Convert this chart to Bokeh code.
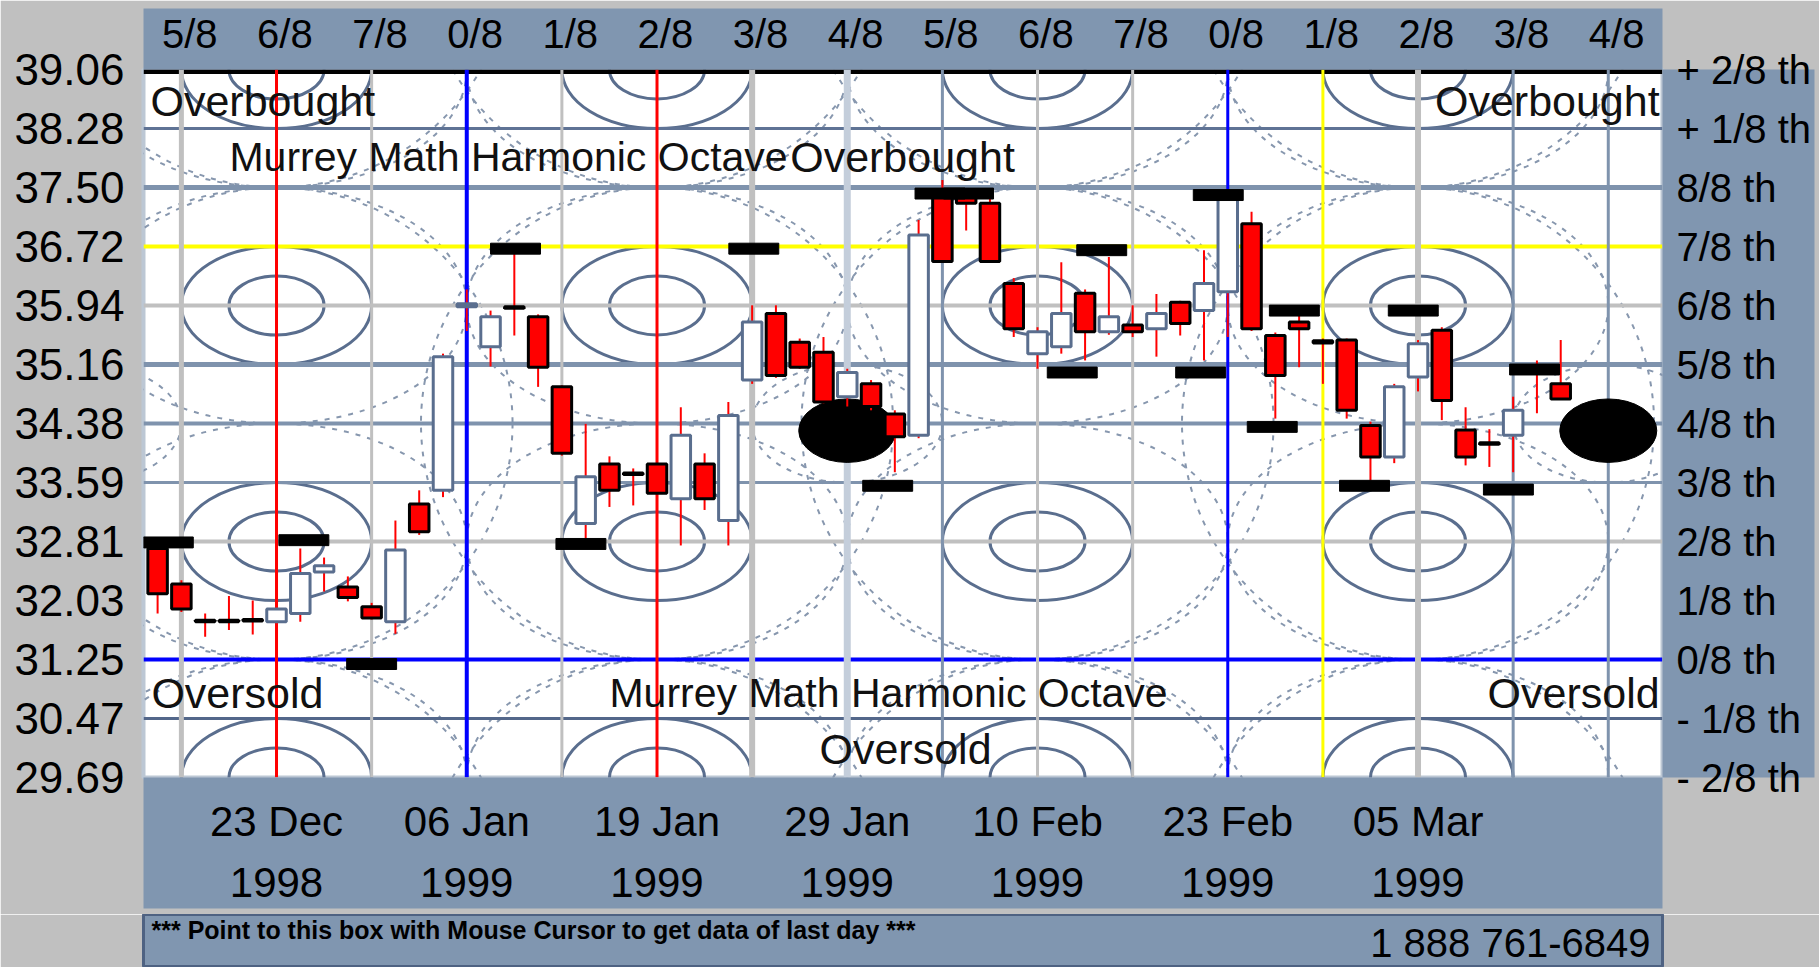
from bokeh.plotting import figure
from bokeh.models import Range1d, LinearAxis, FixedTicker
from bokeh.layouts import column
from bokeh.embed import file_html
from bokeh.resources import INLINE
from bokeh.core.properties import value

# ---------------- data ----------------
opens = [32.72, 32.25, 31.77, 31.77, 31.78, 31.75, 31.86, 32.41, 32.21, 31.95,
         31.75, 33.31, 33.49, 35.92, 35.39, 35.92, 35.79, 34.86, 33.05, 33.84,
         33.72, 33.84, 33.38, 33.84, 33.09, 34.95, 35.83, 35.45, 35.32, 34.73,
         34.90, 34.50, 34.22, 37.40, 37.40, 37.29, 36.23, 35.30, 35.39, 36.10,
         35.59, 35.68, 35.63, 35.98, 35.87, 36.12, 37.02, 35.54, 35.72, 35.47,
         35.48, 34.35, 33.93, 34.99, 35.61, 34.29, 34.12, 34.22, 35.05, 34.90]
highs = [32.85, 32.30, 31.86, 32.09, 32.03, 31.95, 32.72, 32.60, 32.35, 32.00,
         33.09, 33.49, 35.30, 36.15, 35.87, 36.62, 35.82, 34.88, 34.37, 33.94,
         33.78, 33.90, 34.59, 33.98, 34.66, 35.94, 35.94, 35.50, 35.52, 35.10,
         34.95, 34.55, 37.07, 37.60, 37.45, 37.35, 36.30, 35.65, 36.51, 36.15,
         36.58, 35.94, 36.09, 36.00, 36.67, 37.40, 37.18, 35.58, 35.80, 35.50,
         35.50, 34.40, 34.90, 35.48, 35.65, 34.59, 34.30, 34.73, 35.21, 35.48]
lows = [31.86, 31.88, 31.55, 31.64, 31.58, 31.70, 31.75, 32.15, 32.02, 31.78,
        31.59, 32.90, 33.40, 35.60, 35.13, 35.54, 34.86, 33.95, 32.85, 33.27,
        33.29, 33.40, 32.76, 33.23, 32.76, 34.90, 34.98, 35.10, 34.64, 34.60,
        34.55, 33.73, 34.18, 36.50, 36.93, 36.50, 35.52, 35.10, 35.30, 35.21,
        35.55, 35.52, 35.26, 35.54, 35.21, 35.52, 35.60, 34.44, 35.12, 34.90,
        34.44, 33.62, 33.85, 34.80, 34.42, 33.82, 33.80, 33.73, 34.51, 34.70]
closes = [32.12, 31.92, 31.75, 31.75, 31.76, 31.92, 32.39, 32.49, 32.07, 31.80,
          32.70, 32.94, 35.26, 35.96, 35.79, 35.90, 35.12, 33.98, 33.67, 33.49,
          33.70, 33.45, 34.22, 33.38, 34.48, 35.72, 35.01, 35.12, 34.66, 35.05,
          34.60, 34.20, 36.87, 36.52, 37.29, 36.52, 35.63, 35.59, 35.83, 35.59,
          35.79, 35.59, 35.83, 35.70, 36.23, 37.35, 35.63, 35.01, 35.63, 35.44,
          34.55, 33.93, 34.86, 35.43, 34.68, 33.93, 34.10, 34.55, 35.08, 34.70]

# pivot marker bars (trading-day position, price)
marker_day = [0.45, 6.15, 9.0, 15.05, 17.8, 25.07, 32.9, 34.1, 30.7, 38.46,
              39.7, 43.86, 44.6, 46.87, 47.8, 50.75, 52.8, 56.8, 57.9]
marker_price = [32.80, 32.83, 31.19, 36.69, 32.78, 36.69, 37.42, 37.42, 33.55, 35.05,
                36.67, 35.05, 37.40, 34.33, 35.87, 33.55, 35.87, 33.50, 35.09]

# Murrey math price levels and labels
price_levels = [29.6875, 30.46875, 31.25, 32.03125, 32.8125, 33.59375, 34.375,
                35.15625, 35.9375, 36.71875, 37.5, 38.28125, 39.0625]
price_labels = ["29.69", "30.47", "31.25", "32.03", "32.81", "33.59", "34.38",
                "35.16", "35.94", "36.72", "37.50", "38.28", "39.06"]
octave_labels = ["- 2/8 th", "- 1/8 th", "0/8 th", "1/8 th", "2/8 th", "3/8 th", "4/8 th",
                 "5/8 th", "6/8 th", "7/8 th", "8/8 th", "+ 1/8 th", "+ 2/8 th"]

# time octave lines
time_lines = [1, 5, 9, 13, 17, 21, 25, 29, 33, 37, 41, 45, 49, 53, 57, 61]
time_labels = ["5/8", "6/8", "7/8", "0/8", "1/8", "2/8", "3/8", "4/8",
               "5/8", "6/8", "7/8", "0/8", "1/8", "2/8", "3/8", "4/8"]

date_ticks = [5, 13, 21, 29, 37, 45, 53]
date_labels = ["23 Dec\n1998", "06 Jan\n1999", "19 Jan\n1999", "29 Jan\n1999",
               "10 Feb\n1999", "23 Feb\n1999", "05 Mar\n1999"]

# harmonic circles
harm_x = [5, 21, 37, 53]
harm_levels = [29.6875, 32.8125, 35.9375, 39.0625]
big_levels = [28.125, 34.375, 40.625]
blob_x = [29, 61]
blob_price = [34.28, 34.28]
ring_x = [-3, 29, 61]

info_text = "*** Point to this box with Mouse Cursor to get data of last day ***"
phone_text = "1 888 761-6849"

# ---------------- styles ----------------
STEEL = "#8096b0"
GREY = "#c0c0c0"
SLATE = "#5a6e8e"
MID = "#7f93ad"
LIGHT = "#bcc7d4"
FONT = "Liberation Sans"

hline_style = {
    30.46875: ("#53678a", 3), 31.25: ("#0000ff", 4), 32.8125: (GREY, 4),
    33.59375: (MID, 3), 34.375: (MID, 4), 35.15625: (MID, 5), 35.9375: (GREY, 4),
    36.71875: ("#ffff00", 4), 37.5: (MID, 5), 38.28125: ("#5f7395", 3), 39.0625: ("#000000", 9),
}
vline_style = {
    1: (GREY, 5), 5: ("#ff0000", 3), 9: (GREY, 3), 13: ("#0000ff", 4), 17: (GREY, 3),
    21: ("#ff0000", 3), 25: (GREY, 6), 29: ("#c4cedb", 7), 33: (MID, 3), 37: (GREY, 3),
    41: (GREY, 3), 45: ("#0000ff", 3), 49: ("#ffff00", 3), 53: (GREY, 6), 57: (MID, 3), 61: (MID, 3),
}

X0, X1 = -0.593, 63.28
p = figure(width=1819, height=914, x_range=Range1d(X0, X1),
           y_range=Range1d(price_levels[0], price_levels[-1]),
           output_backend="svg", toolbar_location=None,
           x_axis_location=None, y_axis_location=None,
           min_border_left=143, min_border_right=157, min_border_top=69, min_border_bottom=137,
           background_fill_color="white", border_fill_color=GREY,
           outline_line_color=LIGHT, outline_line_width=4)
p.grid.visible = False

# dashed big harmonic circles
bx = [x for x in harm_x for _ in big_levels]
by = [lv for _ in harm_x for lv in big_levels]
p.ellipse(x=bx, y=by, width=19.85, height=6.25, fill_alpha=0,
          line_color="#8797ae", line_width=2, line_dash="5 7")
# dashed medium ellipses
mx = [x for x in harm_x for _ in harm_levels]
my = [lv for _ in harm_x for lv in harm_levels]
p.ellipse(x=mx, y=my, width=16, height=3.125, fill_alpha=0,
          line_color="#8797ae", line_width=2, line_dash="5 7")
# dashed rings around blobs
p.ellipse(x=ring_x, y=[34.375] * len(ring_x), width=8, height=1.5625, fill_alpha=0,
          line_color="#8797ae", line_width=2, line_dash="5 7")
# solid harmonic ellipses
p.ellipse(x=mx, y=my, width=8, height=1.5625, fill_alpha=0, line_color=SLATE, line_width=3)
p.ellipse(x=mx, y=my, width=4, height=0.78125, fill_alpha=0, line_color=SLATE, line_width=3)

# horizontal octave lines
hl = [lv for lv in price_levels if lv in hline_style]
p.segment(x0=[X0] * len(hl), x1=[X1] * len(hl), y0=hl, y1=hl,
          line_color=[hline_style[v][0] for v in hl], line_width=[hline_style[v][1] for v in hl])
# vertical time lines
p.segment(x0=time_lines, x1=time_lines, y0=[price_levels[0]] * len(time_lines),
          y1=[price_levels[-1]] * len(time_lines),
          line_color=[vline_style[t][0] for t in time_lines],
          line_width=[vline_style[t][1] for t in time_lines])

# black blobs
p.ellipse(x=blob_x, y=blob_price, width=4.08, height=0.84, fill_color="black", line_color="black")

# texts
tf = value(FONT)
p.text(x=[-0.30, 26.6], y=[38.64, 37.90], text=["Overbought", "Overbought"],
       text_font=tf, text_font_size="43px", text_baseline="middle", text_color="#111111")
p.text(x=[3.02], y=[37.90], text=["Murrey Math Harmonic Octave"],
       text_font=tf, text_font_size="41px", text_baseline="middle", text_color="#111111")
p.text(x=[63.16], y=[38.64], text=["Overbought"], text_align="right",
       text_font=tf, text_font_size="43px", text_baseline="middle", text_color="#111111")
p.text(x=[-0.26], y=[30.81], text=["Oversold"],
       text_font=tf, text_font_size="43px", text_baseline="middle", text_color="#111111")
p.text(x=[19.0], y=[30.81], text=["Murrey Math Harmonic Octave"],
       text_font=tf, text_font_size="41px", text_baseline="middle", text_color="#111111")
p.text(x=[63.16], y=[30.81], text=["Oversold"], text_align="right",
       text_font=tf, text_font_size="43px", text_baseline="middle", text_color="#111111")
p.text(x=[31.45], y=[30.07], text=["Oversold"], text_align="center",
       text_font=tf, text_font_size="43px", text_baseline="middle", text_color="#111111")

# candles
days = list(range(len(opens)))
up = [c >= o for o, c in zip(opens, closes)]
tops = [max(o, c) for o, c in zip(opens, closes)]
bots = [min(o, c) for o, c in zip(opens, closes)]
p.segment(x0=days, x1=days, y0=lows, y1=highs, line_color="#ff0000", line_width=2)
p.vbar(x=days, width=0.82, top=tops, bottom=bots,
       fill_color=["white" if u else "#ff0000" for u in up],
       line_color=[SLATE if u else "black" for u in up], line_width=3)

# pivot marker bars
p.rect(x=marker_day, y=marker_price, width=2.1, height=0.145, fill_color="black", line_color="black")

# axes
def style_axis(ax, size, standoff):
    ax.axis_line_color = None
    ax.major_tick_line_color = None
    ax.minor_tick_line_color = None
    ax.major_tick_out = 0
    ax.major_tick_in = 0
    ax.major_label_text_font = FONT
    ax.major_label_text_font_size = size
    ax.major_label_text_color = "#000000"
    ax.major_label_standoff = standoff

left = LinearAxis(ticker=FixedTicker(ticks=price_levels),
                  major_label_overrides={lv: lb for lv, lb in zip(price_levels, price_labels)})
style_axis(left, "44px", 19)
p.add_layout(left, "left")

right = LinearAxis(ticker=FixedTicker(ticks=price_levels),
                   major_label_overrides={lv: lb for lv, lb in zip(price_levels, octave_labels)})
style_axis(right, "40px", 14)
p.add_layout(right, "right")

top_ticks = [round(t + 0.35, 2) for t in time_lines]
top = LinearAxis(ticker=FixedTicker(ticks=top_ticks),
                 major_label_overrides={t: lb for t, lb in zip(top_ticks, time_labels)})
style_axis(top, "40px", 14)
p.add_layout(top, "above")

bottom = LinearAxis(ticker=FixedTicker(ticks=date_ticks),
                    major_label_overrides={t: lb for t, lb in zip(date_ticks, date_labels)})
style_axis(bottom, "42px", 20)
bottom.major_label_text_line_height = 1.3
p.add_layout(bottom, "below")

for ax in (top, right, bottom):
    try:
        ax.background_fill_color = STEEL
        ax.background_fill_alpha = 1.0
    except AttributeError:
        pass

# info box strip
p2 = figure(width=1819, height=53, x_range=Range1d(143, 1662), y_range=Range1d(967, 914),
            output_backend="svg", toolbar_location=None,
            x_axis_location=None, y_axis_location=None,
            min_border_left=143, min_border_right=157, min_border_top=0, min_border_bottom=0,
            background_fill_color=STEEL, border_fill_color=GREY,
            outline_line_color="#4e6282", outline_line_width=3)
p2.grid.visible = False
p2.text(x=[151], y=[929], text=[info_text], text_font=tf, text_font_size="25px",
        text_font_style="bold", text_baseline="middle", text_color="#000000")
p2.text(x=[1650], y=[942], text=[phone_text], text_font=tf, text_font_size="40px",
        text_align="right", text_baseline="middle", text_color="#000000")

layout = column(p, p2)
open("out.html", "w").write(file_html(layout, INLINE))
